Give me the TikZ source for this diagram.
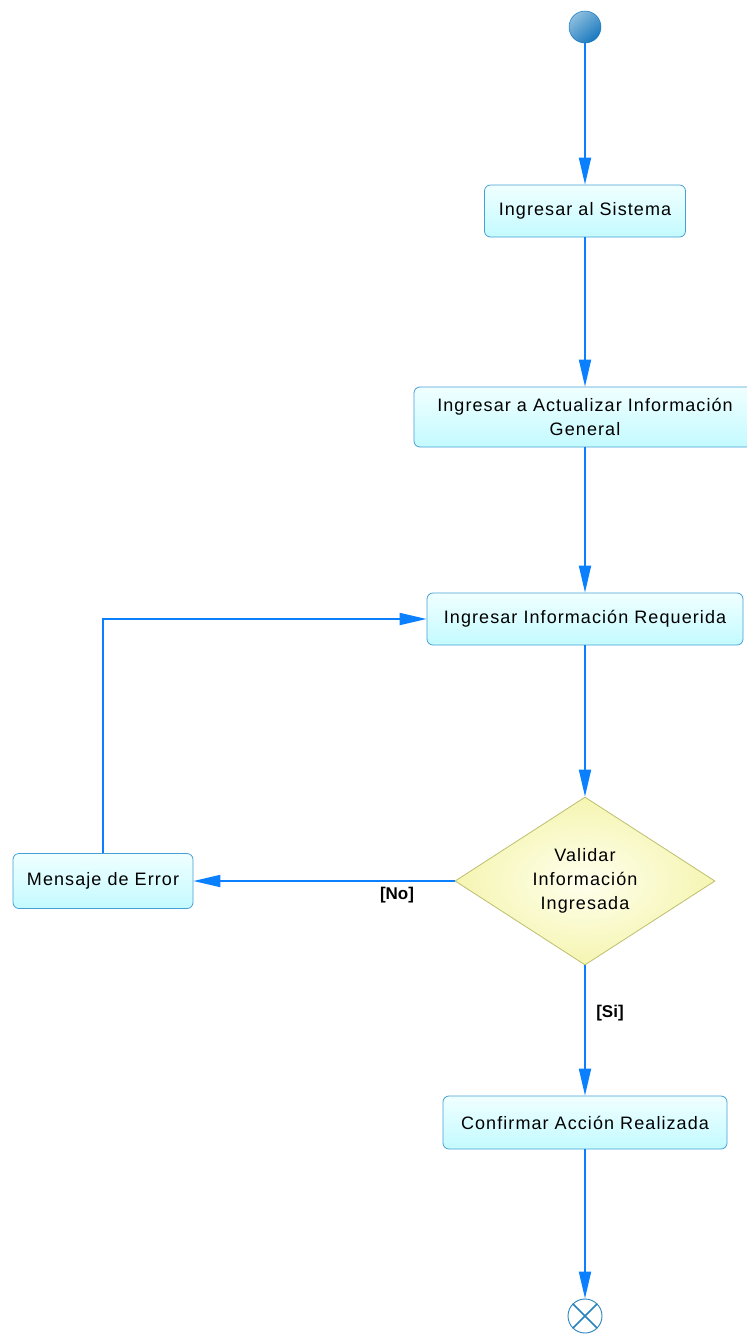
\documentclass[tikz,border=0pt]{standalone}
\usepackage{fontspec}
\setmainfont[LetterSpace=6]{Liberation Sans}
\newfontfamily\guardfont{Liberation Sans}
\usetikzlibrary{arrows.meta,shapes.geometric}

\definecolor{flowblue}{RGB}{10,128,255}
\definecolor{boxedge}{RGB}{70,160,215}
\definecolor{boxtop}{RGB}{240,255,255}
\definecolor{boxbot}{RGB}{195,250,255}
\definecolor{diaedge}{RGB}{190,190,110}
\definecolor{diain}{RGB}{255,255,238}
\definecolor{diaout}{RGB}{245,245,178}
\definecolor{ballhi}{RGB}{140,190,222}
\definecolor{balllo}{RGB}{25,120,190}
\definecolor{endblue}{RGB}{40,130,190}

\tikzset{
  actbox/.style={draw=boxedge, line width=0.8pt, rounded corners=6pt,
    top color=boxtop, bottom color=boxbot, align=center, inner sep=0pt,
    font=\fontsize{18}{24}\selectfont},
  decision/.style={diamond, draw=diaedge, line width=0.8pt,
    inner color=diain, outer color=diaout, align=center, inner sep=0pt,
    minimum width=260pt, minimum height=168pt, aspect=1.55,
    font=\fontsize{18}{24}\selectfont},
  flow/.style={draw=flowblue, line width=1.8pt,
    -{Triangle[length=27pt,width=12pt]}},
  guard/.style={font=\guardfont\bfseries\fontsize{17}{20}\selectfont}
}

\begin{document}
\begin{tikzpicture}[x=1pt,y=-1pt]
\useasboundingbox (0,0) rectangle (747,1334);
\clip (0,0) rectangle (747,1334);
\fill[white] (0,0) rectangle (747,1334);

% initial and final states
\node[circle, minimum size=32pt, inner sep=0pt, draw=balllo, line width=0.5pt,
      top color=ballhi, bottom color=balllo, shading angle=40] (start) at (585,27) {};
\node[circle, minimum size=34pt, inner sep=0pt, draw=endblue, line width=0.9pt,
      fill=white] (stop) at (585,1316) {};
\draw[endblue, line width=1.6pt] (stop.north west) -- (stop.south east)
      (stop.north east) -- (stop.south west);

% activities
\node[actbox, minimum width=201pt, minimum height=52pt] (sys) at (585,211) {Ingresar al Sistema};
\node[actbox, minimum width=342pt, minimum height=60pt] (upd) at (585,417)
      {Ingresar a Actualizar Información\\General};
\node[actbox, minimum width=316pt, minimum height=52pt] (req) at (585,619) {Ingresar Información Requerida};
\node[decision] (val) at (585,881) {Validar\\Información\\Ingresada};
\node[actbox, minimum width=180pt, minimum height=55pt] (err) at (103,881) {Mensaje de Error};
\node[actbox, minimum width=284pt, minimum height=53pt] (ok) at (585,1122.5) {Confirmar Acción Realizada};

% control flow
\draw[flow] (start) -- (sys);
\draw[flow] (sys) -- (upd);
\draw[flow] (upd) -- (req);
\draw[flow] (req) -- (val.north);
\draw[flow] (val.west) -- (err.east);
\draw[flow] (err.north) |- (req.west);
\draw[flow] (val.south) -- (ok.north);
\draw[flow] (ok) -- (stop);

% guards
\node[guard] (no) at (397,895) {[No]};
\node[guard] (si) at (610,1013) {[Si]};
\end{tikzpicture}
\end{document}
